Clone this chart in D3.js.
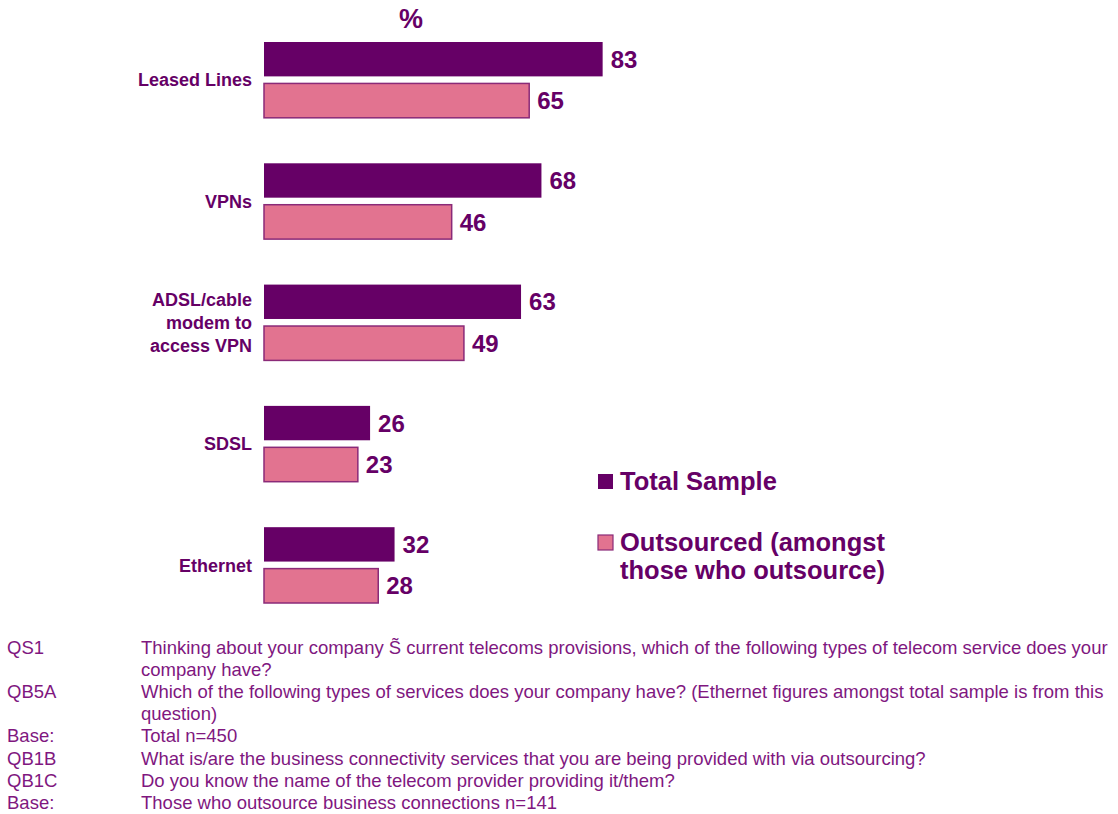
<!DOCTYPE html>
<html>
<head>
<meta charset="utf-8">
<script src="https://cdn.jsdelivr.net/npm/d3@7/dist/d3.min.js"></script>
<style>
  html, body { margin: 0; padding: 0; background: #fff; }
  svg { display: block; font-family: "Liberation Sans", Arial, sans-serif; }
</style>
</head>
<body>
<svg id="chart" width="1118" height="814"></svg>
<script>
// Service categories (label lines per category)
const categories = ["Leased Lines", "VPNs", "ADSL/cable modem to access VPN", "SDSL", "Ethernet"];
const categoryLines = [["Leased Lines"], ["VPNs"], ["ADSL/cable", "modem to", "access VPN"], ["SDSL"], ["Ethernet"]];
const seriesNames = ["Total Sample", "Outsourced (amongst those who outsource)"];
const totalSample = [83, 68, 63, 26, 32];
const outsourced = [65, 46, 49, 23, 28];
const footLabels = ["QS1", "", "QB5A", "", "Base:", "QB1B", "QB1C", "Base:"];
const footTexts = [
  "Thinking about your company S\u0303 current telecoms provisions, which of the following types of telecom service does your",
  "company have?",
  "Which of the following types of services does your company have? (Ethernet figures amongst total sample is from this",
  "question)",
  "Total n=450",
  "What is/are the business connectivity services that you are being provided with via outsourcing?",
  "Do you know the name of the telecom provider providing it/them?",
  "Those who outsource business connections n=141"
];

const dark = "#660066";
const pink = "#E27390";
const textColor = "#660066";
const footColor = "#80177F";

const svg = d3.select("#chart");

const rows = categories.map((c, i) => ({ cat: c, lines: categoryLines[i], values: [totalSample[i], outsourced[i]] }));

const x = d3.scaleLinear().domain([0, 100]).range([264, 264 + 408]);
const y0 = d3.scaleBand().domain(categories).range([42, 603]).paddingInner(0.375).paddingOuter(0);
const y1 = d3.scaleBand().domain(seriesNames).range([0, y0.bandwidth()]).paddingInner(0.17);
const colors = d3.scaleOrdinal().domain(seriesNames).range([dark, pink]);

// "%" header above the bars
svg.append("text")
  .attr("x", 411).attr("y", 28)
  .attr("text-anchor", "middle")
  .attr("font-size", 27).attr("font-weight", "bold")
  .attr("fill", textColor)
  .text("%");

const groups = svg.selectAll("g.group").data(rows).join("g")
  .attr("class", "group")
  .attr("transform", d => `translate(0,${y0(d.cat)})`);

const bars = groups.selectAll("g.bar")
  .data(d => d.values.map((v, j) => ({ series: seriesNames[j], value: v })))
  .join("g").attr("class", "bar");

bars.append("rect")
  .attr("x", x(0))
  .attr("y", d => y1(d.series))
  .attr("width", d => x(d.value) - x(0))
  .attr("height", y1.bandwidth())
  .attr("fill", d => colors(d.series))
  .attr("stroke", d => d.series === seriesNames[1] ? "#8A2A78" : "none")
  .attr("stroke-width", 1.5);

bars.append("text")
  .attr("x", d => x(d.value) + 8)
  .attr("y", d => y1(d.series) + y1.bandwidth() / 2)
  .attr("dy", "0.36em")
  .attr("font-size", 24).attr("font-weight", "bold")
  .attr("fill", textColor)
  .text(d => d.value);

// Category labels, right aligned against the bars
groups.each(function (d) {
  const g = d3.select(this);
  const lh = 23;
  const n = d.lines.length;
  const cy = y0.bandwidth() / 2;
  g.append("text")
    .attr("text-anchor", "end")
    .attr("font-size", 18).attr("font-weight", "bold")
    .attr("fill", textColor)
    .selectAll("tspan").data(d.lines).join("tspan")
    .attr("x", 252)
    .attr("y", (t, k) => cy + (k - (n - 1) / 2) * lh)
    .attr("dy", "0.36em")
    .text(t => t);
});

// Legend
const legend = svg.append("g");
const legendItems = [
  { name: seriesNames[0], lines: ["Total Sample"], y: 481 },
  { name: seriesNames[1], lines: ["Outsourced (amongst", "those who outsource)"], y: 542 }
];
legendItems.forEach(it => {
  legend.append("rect")
    .attr("x", 598).attr("y", it.y - 7)
    .attr("width", 15).attr("height", 15)
    .attr("fill", colors(it.name))
    .attr("stroke", it.name === seriesNames[1] ? "#8A2A78" : "none")
    .attr("stroke-width", 1.2);
  legend.append("text")
    .attr("font-size", 25.5).attr("font-weight", "bold")
    .attr("fill", textColor)
    .selectAll("tspan").data(it.lines).join("tspan")
    .attr("x", 620)
    .attr("y", (t, k) => it.y + k * 28)
    .attr("dy", "0.36em")
    .text(t => t);
});

// Question / base notes
const foot = svg.append("g")
  .attr("font-size", 18.5)
  .attr("fill", footColor);
footTexts.forEach((t, i) => {
  const yy = 654 + i * 22.1;
  if (footLabels[i]) foot.append("text").attr("x", 7).attr("y", yy).text(footLabels[i]);
  foot.append("text").attr("x", 141).attr("y", yy).text(t);
});
</script>
</body>
</html>
